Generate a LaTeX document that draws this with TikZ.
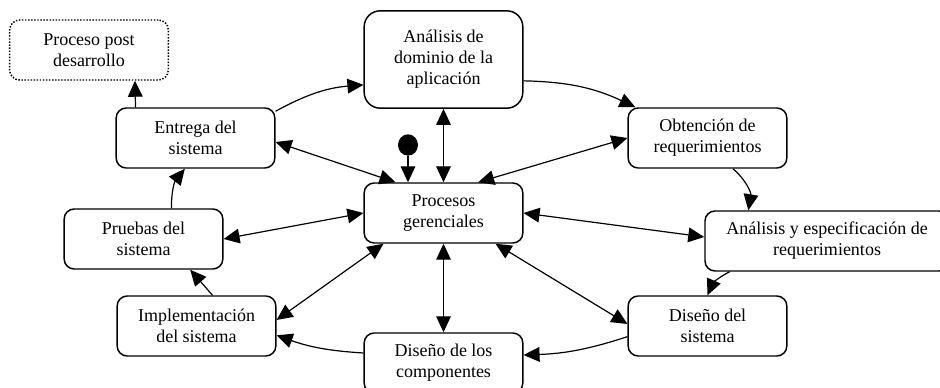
\documentclass[tikz,border=0pt]{standalone}
\usepackage{fontspec}
\setmainfont{Liberation Serif}
\usetikzlibrary{arrows.meta, shapes.geometric}

\tikzset{
    box/.style={draw, line width=1.1pt, rounded corners=7.5pt, minimum width=119pt,
        minimum height=45pt, align=center, inner sep=2pt,
        font=\fontsize{13.5}{15.75}\selectfont},
    flow/.style={line width=0.9pt, -{Triangle[length=12pt, width=11pt]}},
    both/.style={line width=0.9pt, {Triangle[length=12pt, width=11pt]}-{Triangle[length=12pt, width=11pt]}}
}

\begin{document}
\begin{tikzpicture}[x=0.75pt, y=-0.75pt]
        \useasboundingbox (0, 0) rectangle (940, 388);

        % Boxes round the cycle
        \node [box, dash pattern=on 1.1pt off 1.2pt] (post) at (89, 50) {Proceso post\\desarrollo};
        \node [box, minimum height=73pt, rounded corners=12pt] (dominio) at (443.5, 59.5) {Análisis de\\dominio de la\\aplicación};
        \node [box] (obtencion) at (707.5, 138) {Obtención de\\requerimientos};
        \node [box] (entrega) at (195.5, 138) {Entrega del\\sistema};
        \node [box, minimum width=183pt] (especificacion) at (827, 241) {Análisis y especificación de\\requerimientos};
        \node [box] (pruebas) at (143.5, 239) {Pruebas del\\sistema};
        \node [box] (implementacion) at (196.5, 326) {Implementación\\del sistema};
        \node [box] (disenosis) at (707.5, 326) {Diseño del\\sistema};
        \node [box] (componentes) at (443.5, 363) {Diseño de los\\componentes};

        % Central box
        \node [box] (procesos) at (443.5, 213) {Procesos\\gerenciales};

        % Start dot
        \node [fill=black, ellipse, minimum width=15pt, minimum height=16pt, inner sep=0pt] (inicio) at (408, 145) {};
        \draw [flow] (inicio) -- (inicio |- procesos.north);

        % Cycle
        \draw [flow] ([xshift=-45pt]entrega.north) -- ([xshift=34.5pt]post.south);
        \draw [flow] ([yshift=-3pt]entrega.north east) to [bend left=12] ([yshift=-19pt]dominio.west);
        \draw [flow] ([yshift=-16pt]dominio.east) to [bend left=12] ([xshift=6pt]obtencion.north west);
        \draw [flow] ([xshift=19pt]obtencion.south) to [bend left=30] ([xshift=-59pt]especificacion.north);
        \draw [flow] ([xshift=-73pt]especificacion.south) to [bend right=20] (disenosis.north);
        \draw [flow] ([yshift=-8pt]disenosis.west) to [bend left=8] ([yshift=6pt]componentes.east);
        \draw [flow] ([yshift=7.5pt]componentes.west) to [bend left=8] ([yshift=-7pt]implementacion.east);
        \draw [flow] ([xshift=12pt]implementacion.north) -- ([xshift=35pt]pruebas.south);
        \draw [flow] ([xshift=21pt]pruebas.north) to [bend left=20] ([xshift=-8pt]entrega.south);

        % Links with the central box
        \draw [both] (dominio.south) -- (procesos.north);
        \draw [both] ([yshift=-3pt]entrega.east) -- ([xshift=-36pt]procesos.north);
        \draw [both] (obtencion.west) -- ([xshift=26pt]procesos.north);
        \draw [both] (pruebas.east) -- (procesos.west);
        \draw [both] ([yshift=4.5pt]implementacion.east) -- ([xshift=-45pt]procesos.south);
        \draw [both] (procesos.south) -- (componentes.north);
        \draw [both] ([xshift=39pt]procesos.south) -- ([yshift=1.5pt]disenosis.west);
        \draw [both] (procesos.east) -- ([yshift=3pt]especificacion.west);

    \end{tikzpicture}
\end{document}
